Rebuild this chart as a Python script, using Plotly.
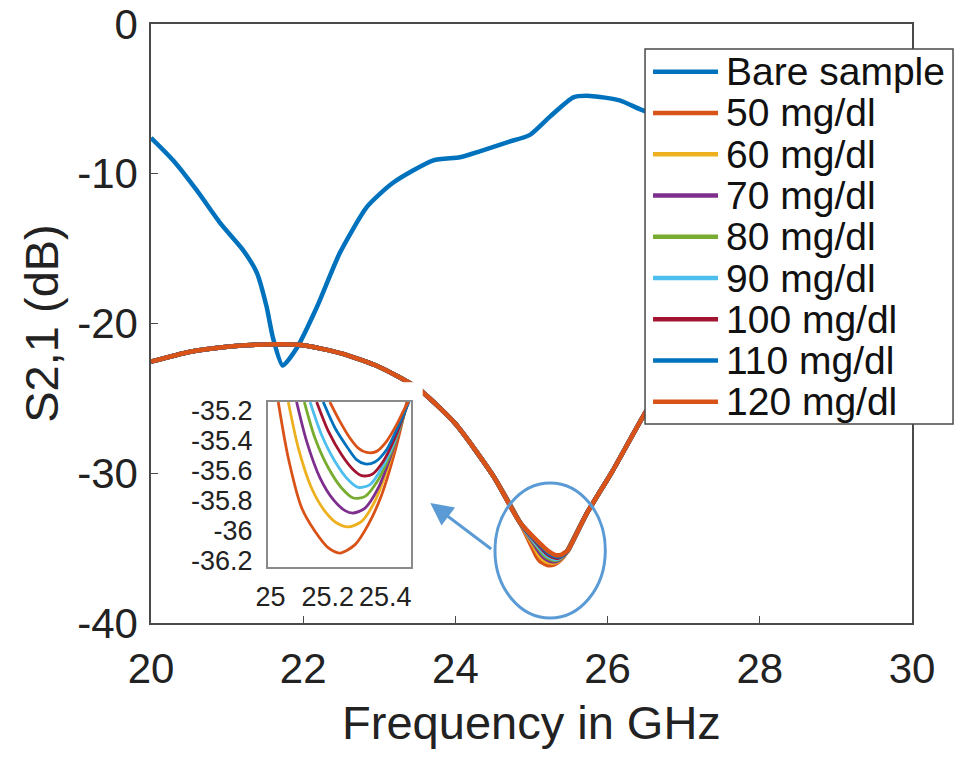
import plotly.graph_objects as go

FONT = "Liberation Sans, Arial, sans-serif"

# ---------------- data ----------------
bare_freq = [20.0, 20.29, 20.6, 20.91, 21.21, 21.39, 21.52, 21.6, 21.73, 21.92, 22.18, 22.48,
             22.84, 23.18, 23.71, 24.06, 24.32, 24.68, 24.98, 25.24, 25.55, 25.77, 26.16, 26.43,
             26.8, 27.5, 28.5, 30.0]
bare_s21 = [-7.6, -9.1, -11.1, -13.3, -15.1, -16.6, -18.9, -20.9, -22.8, -21.6, -18.9, -15.3,
            -12.2, -10.6, -9.1, -8.9, -8.5, -7.9, -7.4, -6.2, -4.9, -4.8, -5.1, -5.7,
            -6.4, -7.5, -8.5, -9.5]

# shared part of the glucose curves (outside the resonance dip)
left_freq = [20.0, 20.5, 21.0, 21.5, 22.0, 22.5, 23.0, 23.5, 24.0, 24.5, 24.85]
left_s21 = [-22.55, -21.9, -21.55, -21.4, -21.45, -22.0, -22.9, -24.3, -26.7, -30.2, -33.3]
right_freq = [25.73, 26.07, 26.49, 27.0, 27.5, 28.0, 29.0, 30.0]
right_s21 = [-32.65, -29.8, -26.0, -22.0, -19.0, -16.5, -13.0, -10.5]

# resonance dip for each concentration
dip50_f = [25.027, 25.062, 25.109, 25.155, 25.202, 25.242, 25.295, 25.341, 25.388, 25.428, 25.463, 25.475]
dip50_s = [-35.140, -35.513, -35.847, -36.002, -36.113, -36.147, -36.091, -35.958, -35.758, -35.513, -35.247, -35.140]
dip60_f = [25.062, 25.097, 25.143, 25.190, 25.231, 25.271, 25.318, 25.364, 25.405, 25.440, 25.469]
dip60_s = [-35.140, -35.447, -35.713, -35.869, -35.947, -35.973, -35.936, -35.802, -35.602, -35.380, -35.180]
dip70_f = [25.091, 25.126, 25.173, 25.219, 25.260, 25.289, 25.330, 25.376, 25.417, 25.452, 25.475]
dip70_s = [-35.140, -35.402, -35.647, -35.791, -35.864, -35.880, -35.847, -35.713, -35.513, -35.313, -35.158]
dip80_f = [25.118, 25.155, 25.202, 25.248, 25.289, 25.330, 25.376, 25.417, 25.452, 25.475]
dip80_s = [-35.140, -35.380, -35.580, -35.713, -35.780, -35.769, -35.658, -35.491, -35.313, -35.169]
dip90_f = [25.138, 25.178, 25.225, 25.271, 25.306, 25.347, 25.388, 25.428, 25.457, 25.478]
dip90_s = [-35.140, -35.358, -35.536, -35.658, -35.709, -35.691, -35.580, -35.424, -35.269, -35.147]
dip100_f = [25.161, 25.202, 25.248, 25.289, 25.318, 25.353, 25.393, 25.434, 25.463, 25.481]
dip100_s = [-35.140, -35.336, -35.491, -35.591, -35.631, -35.624, -35.536, -35.380, -35.236, -35.140]
dip110_f = [25.184, 25.225, 25.266, 25.300, 25.330, 25.364, 25.405, 25.440, 25.469, 25.483]
dip110_s = [-35.140, -35.313, -35.436, -35.524, -35.553, -35.540, -35.458, -35.324, -35.202, -35.140]
dip120_f = [25.207, 25.242, 25.277, 25.306, 25.335, 25.370, 25.405, 25.440, 25.469, 25.481]
dip120_s = [-35.140, -35.269, -35.380, -35.447, -35.476, -35.469, -35.402, -35.291, -35.180, -35.140]

labels = ["Bare sample", "50 mg/dl", "60 mg/dl", "70 mg/dl", "80 mg/dl", "90 mg/dl",
          "100 mg/dl", "110 mg/dl", "120 mg/dl"]
colors = ["#0072BD", "#D95319", "#EDB120", "#7E2F8E", "#77AC30", "#4DBEEE",
          "#A2142F", "#0072BD", "#D95319"]

x_ticks = [20, 22, 24, 26, 28, 30]
x_tick_text = ["20", "22", "24", "26", "28", "30"]
y_ticks = [0, -10, -20, -30, -40]
y_tick_text = ["0", "-10", "-20", "-30", "-40"]
inset_x_ticks = [25, 25.2, 25.4]
inset_x_text = ["25", "25.2", "25.4"]
inset_y_ticks = [-35.2, -35.4, -35.6, -35.8, -36.0, -36.2]
inset_y_text = ["-35.2", "-35.4", "-35.6", "-35.8", "-36", "-36.2"]

dips = [(dip50_f, dip50_s), (dip60_f, dip60_s), (dip70_f, dip70_s), (dip80_f, dip80_s),
        (dip90_f, dip90_s), (dip100_f, dip100_s), (dip110_f, dip110_s), (dip120_f, dip120_s)]

# ---------------- figure ----------------
fig = go.Figure()

fig.add_trace(go.Scatter(x=bare_freq, y=bare_s21, mode="lines", name=labels[0],
                         line=dict(color=colors[0], width=4.5, shape="spline", smoothing=0.6),
                         showlegend=False))
for i, (df, ds) in enumerate(dips):
    fig.add_trace(go.Scatter(x=left_freq + df + right_freq, y=left_s21 + ds + right_s21,
                             mode="lines", name=labels[i + 1],
                             line=dict(color=colors[i + 1], width=4.5, shape="spline", smoothing=0.6),
                             showlegend=False))

# blank subplot whose white background hides the main curves behind the inset
fig.add_trace(go.Scatter(x=[], y=[], xaxis="x2", yaxis="y2", showlegend=False, hoverinfo="skip"))

# inset
for i, (df, ds) in enumerate(dips):
    fig.add_trace(go.Scatter(x=df, y=ds, mode="lines", name=labels[i + 1], xaxis="x3", yaxis="y3",
                             line=dict(color=colors[i + 1], width=2.8, shape="spline", smoothing=0.8),
                             showlegend=False))

axis_col = "#4a4a4a"

fig.update_layout(
    width=961, height=757,
    margin=dict(l=151, r=49, t=24, b=134),
    paper_bgcolor="white", plot_bgcolor="white",
    font=dict(family=FONT, color="#222222"),
    showlegend=False,
    xaxis=dict(range=[20, 30], tickvals=x_ticks, ticktext=x_tick_text, ticks="inside", ticklen=7,
               tickcolor=axis_col, showline=True, mirror=True, linecolor=axis_col, linewidth=1.5,
               showgrid=False, zeroline=False, tickfont=dict(size=42, family=FONT, color="#222"),
               ticklabelstandoff=8, automargin=False,
               title=dict(text="Frequency in GHz", standoff=15,
                          font=dict(size=47, family=FONT, color="#222"))),
    yaxis=dict(range=[-40, 0], tickvals=y_ticks, ticktext=y_tick_text, ticks="inside", ticklen=7,
               tickcolor=axis_col, showline=True, mirror=True, linecolor=axis_col, linewidth=1.5,
               showgrid=False, zeroline=False, tickfont=dict(size=42, family=FONT, color="#222"),
               ticklabelstandoff=3, automargin=False,
               title=dict(text="S2,1 (dB)", standoff=4,
                          font=dict(size=47, family=FONT, color="#222"))),
    xaxis2=dict(domain=[0.025, 0.357], anchor="y2", visible=False, range=[0, 1], fixedrange=True,
                automargin=False),
    yaxis2=dict(domain=[0.022, 0.402], anchor="x2", visible=False, range=[0, 1], fixedrange=True,
                automargin=False),
    xaxis3=dict(domain=[0.1533, 0.3416], anchor="y3", range=[24.99, 25.49], automargin=False,
                tickvals=inset_x_ticks, ticktext=inset_x_text, ticks="", showline=True, mirror=True,
                linecolor="#8a8a8a", linewidth=1.5, showgrid=False, zeroline=False,
                tickfont=dict(size=27, family=FONT, color="#222"), ticklabelstandoff=5),
    yaxis3=dict(domain=[0.0935, 0.3689], anchor="x3", range=[-36.24, -35.14], automargin=False,
                tickvals=inset_y_ticks, ticktext=inset_y_text, ticks="", showline=True, mirror=True,
                linecolor="#8a8a8a", linewidth=1.5, showgrid=False, zeroline=False,
                tickfont=dict(size=27, family=FONT, color="#222"), ticklabelstandoff=8),
)

# ellipse highlighting the dip and arrow to the inset
shapes = [dict(type="circle", xref="x", yref="y", x0=24.52, x1=25.97, y0=-39.67, y1=-30.65,
               line=dict(color="#5B9BD5", width=3), layer="above")]

# manual legend box (MATLAB-like compact rows)
lg_x0, lg_x1, lg_y0, lg_y1 = 0.6492, 1.0539, 0.3322, 0.9583
shapes.append(dict(type="rect", xref="paper", yref="paper", x0=lg_x0, x1=lg_x1, y0=lg_y0, y1=lg_y1,
                   line=dict(color="#4a4a4a", width=1.5), fillcolor="white", layer="above"))
row_top, row_step = 0.9204, 0.0689
annotations = []
for i, lab in enumerate(labels):
    yy = row_top - i * row_step
    shapes.append(dict(type="line", xref="paper", yref="paper", x0=0.6597, x1=0.7451, y0=yy, y1=yy,
                       line=dict(color=colors[i], width=4.5), layer="above"))
    annotations.append(dict(text=lab, xref="paper", yref="paper", x=0.7530, y=yy,
                            xanchor="left", yanchor="middle", showarrow=False,
                            font=dict(size=39, family=FONT, color="#111")))

annotations.append(dict(x=23.67, y=-31.99, ax=24.49, ay=-35.13, xref="x", yref="y",
                        axref="x", ayref="y", text="", showarrow=True, arrowhead=2,
                        arrowsize=1.5, arrowwidth=3, arrowcolor="#5B9BD5"))

fig.update_layout(shapes=shapes, annotations=annotations)

fig.write_html("out.html")
